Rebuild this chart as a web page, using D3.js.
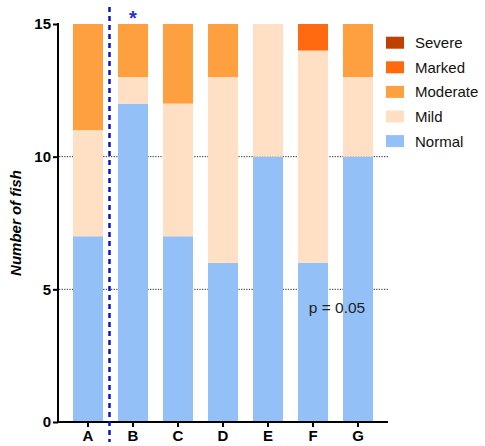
<!DOCTYPE html>
<html>
<head>
<meta charset="utf-8">
<script src="https://cdn.jsdelivr.net/npm/d3@7"></script>
<style>
  body { margin: 0; background: #fff; }
  svg { font-family: "Liberation Sans", Arial, sans-serif; }
  .tick-lbl { font-weight: bold; font-size: 15px; }
  .x-lbl { font-weight: bold; font-size: 15px; }
</style>
</head>
<body>
<svg id="chart"></svg>
<script>
var width = 485, height = 446;

var groups = ["A", "B", "C", "D", "E", "F", "G"];
var grades = ["Normal", "Mild", "Moderate", "Marked", "Severe"];
var normal   = [7, 12, 7, 6, 10, 6, 10];
var mild     = [4, 1, 5, 7, 5, 8, 3];
var moderate = [4, 2, 3, 2, 0, 0, 2];
var marked   = [0, 0, 0, 0, 0, 1, 0];
var severe   = [0, 0, 0, 0, 0, 0, 0];
var yTicks = [0, 5, 10, 15];
var gridTicks = [5, 10];
var colors = ["#94c0f8", "#ffe0c4", "#ffa040", "#ff6a10", "#c04000"];

var rows = groups.map(function(g, i) {
  return {group: g, Normal: normal[i], Mild: mild[i], Moderate: moderate[i], Marked: marked[i], Severe: severe[i]};
});

var svg = d3.select("#chart").attr("width", width).attr("height", height);

var x = d3.scaleBand().domain(groups).range([58, 388])
  .paddingInner(1 / 3).paddingOuter(1 / 3);
var y = d3.scaleLinear().domain([0, 15]).range([422, 24]);
var color = d3.scaleOrdinal().domain(grades).range(colors);

// dotted gridlines behind bars
svg.selectAll("line.grid").data(gridTicks).enter().append("line")
  .attr("class", "grid")
  .attr("x1", 59).attr("x2", 389)
  .attr("y1", function(d) { return y(d); }).attr("y2", function(d) { return y(d); })
  .attr("stroke", "#333").attr("stroke-width", 1).attr("stroke-dasharray", "1.3,1.3");

var stacked = d3.stack().keys(grades)(rows);

svg.selectAll("g.layer").data(stacked).enter().append("g")
  .attr("class", "layer")
  .attr("fill", function(d) { return color(d.key); })
  .selectAll("rect").data(function(d) { return d; }).enter().append("rect")
    .attr("x", function(d) { return x(d.data.group); })
    .attr("width", x.bandwidth())
    .attr("y", function(d) { return y(d[1]); })
    .attr("height", function(d) { return y(d[0]) - y(d[1]); });

// axes
var yAxis = svg.append("g").attr("transform", "translate(58,0)")
  .call(d3.axisLeft(y).tickValues(yTicks).tickSize(5).tickPadding(2));
var xAxis = svg.append("g").attr("transform", "translate(0,422)")
  .call(d3.axisBottom(x).tickSize(5).tickPadding(3));

[yAxis, xAxis].forEach(function(a) {
  a.select(".domain").attr("stroke", "#000").attr("stroke-width", 2);
  a.selectAll(".tick line").attr("stroke", "#000").attr("stroke-width", 2);
  a.selectAll("text").attr("fill", "#000").style("font-family", "Liberation Sans, Arial, sans-serif");
});
yAxis.select(".domain").attr("d", "M0,23V422");
xAxis.select(".domain").attr("d", "M57,0H388");
yAxis.selectAll("text").attr("class", "tick-lbl");
xAxis.selectAll("text").attr("class", "x-lbl");

svg.append("text")
  .attr("transform", "translate(21," + y(7.5) + ") rotate(-90)")
  .attr("text-anchor", "middle")
  .style("font-size", "15px").style("font-weight", "bold").style("font-style", "italic")
  .text("Number of fish");

// dashed separator between A and B
var sepX = (x("A") + x.bandwidth() + x("B")) / 2 - 1;
svg.append("line")
  .attr("x1", sepX).attr("x2", sepX).attr("y1", 7).attr("y2", 442)
  .attr("stroke", "#0a14c8").attr("stroke-width", 2.5).attr("stroke-dasharray", "5,4");

svg.append("text")
  .attr("x", x("B") + x.bandwidth() / 2).attr("y", 25)
  .attr("text-anchor", "middle").attr("fill", "#2a2ad8")
  .style("font-size", "20px").style("font-weight", "bold")
  .text("*");

svg.append("text")
  .attr("x", 337).attr("y", 313).attr("text-anchor", "middle")
  .attr("fill", "#222").style("font-size", "15.5px")
  .text("p = 0.05");

// legend
var legendOrder = grades.slice().reverse();
var leg = svg.selectAll("g.leg").data(legendOrder).enter().append("g")
  .attr("class", "leg")
  .attr("transform", function(d, i) { return "translate(386," + (42.7 + i * 24.6) + ")"; });
leg.append("rect").attr("x", 0).attr("y", -6).attr("width", 18).attr("height", 12)
  .attr("fill", function(d) { return color(d); });
leg.append("text").attr("x", 29).attr("y", 5.5)
  .attr("fill", "#111").style("font-size", "15px")
  .text(function(d) { return d; });
</script>
</body>
</html>
